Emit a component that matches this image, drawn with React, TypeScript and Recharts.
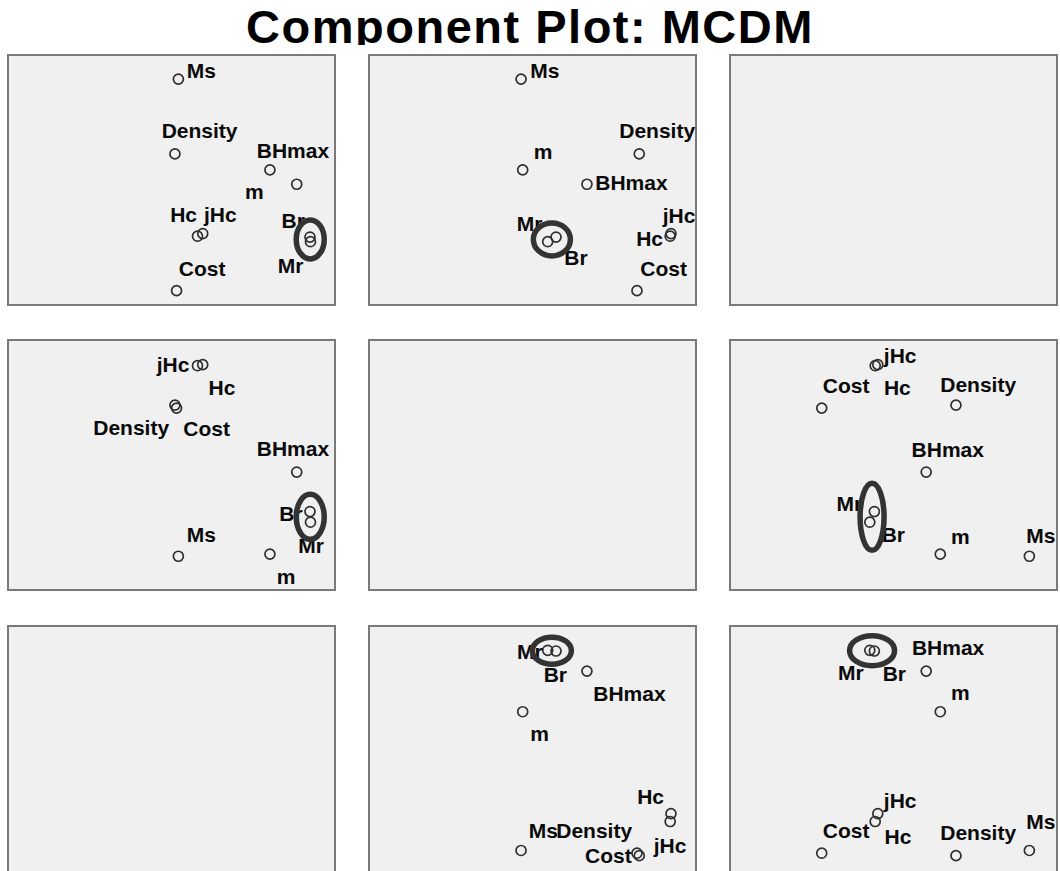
import React from 'react';
import { ScatterChart, Scatter, XAxis, YAxis } from 'recharts';

// ---- data: rotated component loadings ----
const variables = ['BHmax', 'Br', 'Hc', 'jHc', 'Mr', 'Ms', 'm', 'Density', 'Cost'];
const component1 = [0.766, 0.847, 0.159, 0.191, 0.85, 0.042, 0.602, 0.021, 0.031];
const component2 = [0.333, 0.144, 0.842, 0.847, 0.093, -0.07, -0.06, 0.653, 0.639];
const component3 = [0.2, -0.117, -0.112, -0.096, -0.145, 0.831, 0.286, 0.382, -0.439];
const components = [component1, component2, component3];

// axis ranges per component (x axes share -1..1, y axes fitted to the data)
const xDomains: [number, number][] = [[-1, 1], [-1, 1], [-1, 1]];
const yDomains: [number, number][] = [[-0.061, 0.948], [-0.2315, 0.965], [-0.525, 0.976]];

// highlighted pair (hand-drawn ellipse in the original)
const highlighted = ['Mr', 'Br'];

const TITLE = 'Component Plot: MCDM';

// ---- layout / styling ----
const COL_LEFT = [7, 368, 729];
const ROW_TOP = [54, 339, 625];
const BOX_W = 329;
const BOX_H = 252;
const PLOT_W = 327;
const PLOT_H = 250;

// panel grid: rows have y = component 3,2,1 ; columns have x = component 1,2,3
const panels = [
  { id: 'r1c1', row: 0, col: 0, xc: 0, yc: 2 },
  { id: 'r1c2', row: 0, col: 1, xc: 1, yc: 2 },
  { id: 'r1c3', row: 0, col: 2, xc: -1, yc: -1 },
  { id: 'r2c1', row: 1, col: 0, xc: 0, yc: 1 },
  { id: 'r2c2', row: 1, col: 1, xc: -1, yc: -1 },
  { id: 'r2c3', row: 1, col: 2, xc: 2, yc: 1 },
  { id: 'r3c1', row: 2, col: 0, xc: -1, yc: -1 },
  { id: 'r3c2', row: 2, col: 1, xc: 1, yc: 0 },
  { id: 'r3c3', row: 2, col: 2, xc: 2, yc: 0 },
];

// label placement (text start / baseline offset from the point, px)
const LABEL_POS: Record<string, Record<string, [number, number]>> = {
  r1c1: { Ms: [8.4, -1], Density: [-13.3, -16], BHmax: [-40, -26], m: [-25, 29], Hc: [-27.3, -14.3], jHc: [1.3, -11.6], Br: [-28.5, -9.3], Mr: [-32.8, 31.3], Cost: [2.3, -14.7] },
  r1c2: { Ms: [9.3, -0.7], Density: [-20, -16], m: [11, -10.7], BHmax: [8.3, 5.7], jHc: [-8.3, -11], Hc: [-34, 9.7], Mr: [-31, -11], Br: [8.3, 28], Cost: [3.3, -14.7] },
  r2c1: { jHc: [-46, 7.3], Hc: [11, 29], Density: [-81.7, 30], Cost: [6.8, 28], BHmax: [-40, -15.7], Br: [-30.7, 9.7], Mr: [-12.3, 30.7], Ms: [8.3, -14.6], m: [6.7, 29.4] },
  r2c3: { jHc: [6, -2], Hc: [8.7, 29], Cost: [1, -15.3], Density: [-15.7, -13.3], BHmax: [-14.6, -15], Mr: [-33.3, -11], Br: [7.3, 30], m: [10.7, -10.6], Ms: [-3, -13.3] },
  r3c2: { Mr: [-30.7, 9], Br: [-12.4, 31], BHmax: [6.3, 30], m: [7.6, 29], Hc: [-33, -17.9], jHc: [-17.3, 39], Ms: [7.7, -12.6], Density: [-83, -18], Cost: [-52, 10] },
  r3c3: { Mr: [-31.7, 30], Br: [8.3, 30], BHmax: [-14.3, -16], m: [10.7, -11.7], jHc: [6, -6], Hc: [9.4, 22.7], Cost: [1, -15], Density: [-15.7, -15.7], Ms: [-3, -21.7] },
};

// highlight ellipse radii per panel (px)
const ELLIPSE_R: Record<string, [number, number]> = {
  r1c1: [14, 19.5],
  r1c2: [18.5, 16.5],
  r2c1: [14, 22.5],
  r2c3: [12, 33.5],
  r3c2: [19.5, 13.5],
  r3c3: [22.5, 15],
};

const FONT = '"Liberation Sans", Arial, Helvetica, sans-serif';

function makePointShape(panelId: string) {
  return (props: any) => {
    const { cx, cy, payload } = props;
    if (cx == null || cy == null) return <g />;
    const pos = LABEL_POS[panelId][payload.name] || [6, -6];
    return (
      <g>
        <circle cx={cx} cy={cy} r={5} fill="none" stroke="#2f2f2f" strokeWidth={1.7} />
        <text
          x={cx + pos[0]}
          y={cy + pos[1]}
          fontFamily={FONT}
          fontWeight="bold"
          fontSize={21}
          fill="#0a0a0a"
        >
          {payload.name}
        </text>
      </g>
    );
  };
}

function makeEllipseShape(panelId: string) {
  return (props: any) => {
    const { cx, cy } = props;
    if (cx == null || cy == null) return <g />;
    const [rx, ry] = ELLIPSE_R[panelId];
    return <ellipse cx={cx} cy={cy} rx={rx} ry={ry} fill="none" stroke="#333333" strokeWidth={5.5} />;
  };
}

function Panel({ p }: { p: (typeof panels)[number] }) {
  const boxStyle: React.CSSProperties = {
    position: 'absolute',
    left: COL_LEFT[p.col],
    top: ROW_TOP[p.row],
    width: BOX_W,
    height: BOX_H,
    boxSizing: 'border-box',
    border: '2px solid #7a7a7a',
    background: '#f0f0f0',
    overflow: 'hidden',
  };
  if (p.xc < 0) return <div style={boxStyle} />;
  const xs = components[p.xc];
  const ys = components[p.yc];
  const data = variables.map((name, i) => ({ name, x: xs[i], y: ys[i] }));
  const hi = data.filter((d) => highlighted.includes(d.name));
  const center = [
    {
      name: 'highlight',
      x: hi.reduce((s, d) => s + d.x, 0) / hi.length,
      y: hi.reduce((s, d) => s + d.y, 0) / hi.length,
    },
  ];
  return (
    <div style={boxStyle}>
      <div style={{ position: 'absolute', left: -1, top: -1 }}>
        <ScatterChart width={PLOT_W} height={PLOT_H} margin={{ top: 0, right: 0, bottom: 0, left: 0 }}>
          <XAxis type="number" dataKey="x" domain={xDomains[p.xc]} hide />
          <YAxis type="number" dataKey="y" domain={yDomains[p.yc]} hide />
          <Scatter data={data} isAnimationActive={false} shape={makePointShape(p.id)} />
          <Scatter data={center} isAnimationActive={false} shape={makeEllipseShape(p.id)} />
        </ScatterChart>
      </div>
    </div>
  );
}

export default function App() {
  return (
    <div
      style={{
        position: 'absolute',
        left: 0,
        top: 0,
        width: 1060,
        height: 871,
        overflow: 'hidden',
        background: '#ffffff',
      }}
    >
      <div
        style={{
          position: 'absolute',
          left: 0,
          top: 0,
          width: 1060,
          height: 45,
          overflow: 'hidden',
          textAlign: 'center',
          fontFamily: FONT,
          fontWeight: 'bold',
          fontSize: 47,
          letterSpacing: 1.5,
          lineHeight: '47px',
          paddingTop: 3,
          boxSizing: 'border-box',
          color: '#000000',
          whiteSpace: 'nowrap',
        }}
      >
        {TITLE}
      </div>
      {panels.map((p) => (
        <Panel key={p.id} p={p} />
      ))}
    </div>
  );
}
